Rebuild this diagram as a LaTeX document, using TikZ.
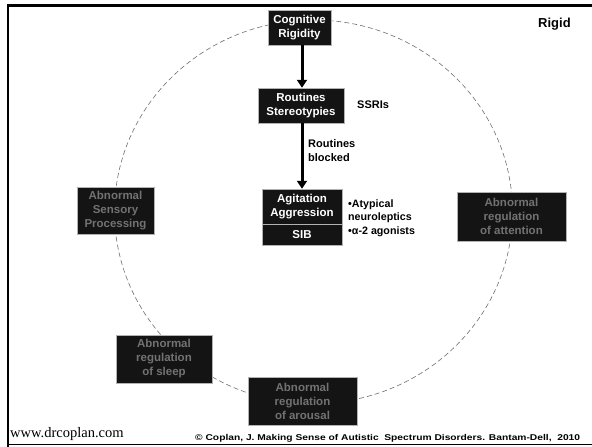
\documentclass[tikz,border=0pt]{standalone}
\usepackage{fontspec}
\setmainfont{Liberation Sans}
\newfontfamily\urlfont{Liberation Serif}
\usetikzlibrary{arrows.meta}
\definecolor{boxfill}{HTML}{141414}
\definecolor{dimtext}{HTML}{727272}
\definecolor{ringgray}{HTML}{707070}
\tikzset{
  darkbox/.style={draw=gray!60, line width=0.4pt, fill=boxfill, text=white,
    font=\bfseries\fontsize{11.5}{14}\selectfont, align=center,
    inner sep=0pt},
  dimbox/.style={darkbox, text=dimtext},
  flow/.style={line width=3pt, -{Triangle[length=8pt,width=10pt]}},
  note/.style={font=\bfseries\fontsize{11}{14}\selectfont, align=left, anchor=west, inner sep=0pt},
}
\begin{document}
\begin{tikzpicture}[x=1pt,y=-1pt]
\useasboundingbox (0,0) rectangle (592,447);
\fill[white] (0,0) rectangle (592,447);
% frame
\draw[line width=2.6pt] (8,447) -- (8,5.5) -- (592,5.5);
\draw[line width=1.2pt] (8,444.5) -- (592,444.5);
% dashed ring
\draw[ringgray, line width=0.6pt, dash pattern=on 5pt off 3pt]
  (313.5,211.8) ellipse [x radius=199, y radius=191.8];
% central chain
\node[darkbox, minimum width=63pt, minimum height=35pt] (cog) at (299.5,27.5) {Cognitive\\Rigidity};
\node[darkbox, minimum width=86pt, minimum height=35pt] (rout) at (301,105.5) {Routines\\Stereotypies};
\node[darkbox, minimum width=80pt, minimum height=35pt] (agit) at (302,206.5) {Agitation\\Aggression};
\node[darkbox, minimum width=80pt, minimum height=21pt, anchor=north] (sib) at (agit.south) {SIB};
\draw[flow] (cog.south -| 302,0) -- (rout.north -| 302,0);
\draw[flow] (rout.south -| 302,0) -- (agit.north -| 302,0);
% notes
\node[note] (ssri) at (357,105) {SSRIs};
\node[note] (blocked) at (308,150.5) {Routines\\blocked};
\node[note, font=\bfseries\fontsize{10.7}{13.5}\selectfont] (meds) at (348,218) {•Atypical\\neuroleptics\\•α-2 agonists};
% outer ring boxes
\node[dimbox, minimum width=77pt, minimum height=47pt] (sens) at (115.5,210.5) {Abnormal\\Sensory\\Processing};
\node[dimbox, minimum width=109pt, minimum height=49pt] (attn) at (511.5,216.5) {Abnormal\\regulation\\of attention};
\node[dimbox, minimum width=96pt, minimum height=48pt] (sleep) at (164,359) {Abnormal\\regulation\\of sleep};
\node[dimbox, minimum width=109pt, minimum height=48pt] (arou) at (302.5,401) {Abnormal\\regulation\\of arousal};
% labels
\node[font=\bfseries\fontsize{13}{15}\selectfont, anchor=west, inner sep=0pt] (rigid) at (538,24) {Rigid};
\node[font=\urlfont\fontsize{14.5}{16}\selectfont, anchor=west, inner sep=0pt] (url) at (10,434) {www.drcoplan.com};
\node[font=\bfseries\fontsize{8.4}{9}\selectfont, anchor=west, inner sep=0pt] (cite) at (195,438) {\scalebox{1.22}[1]{© Coplan, J. Making Sense of Autistic\ \ Spectrum Disorders. Bantam-Dell,\ \ 2010}};
\end{tikzpicture}
\end{document}
